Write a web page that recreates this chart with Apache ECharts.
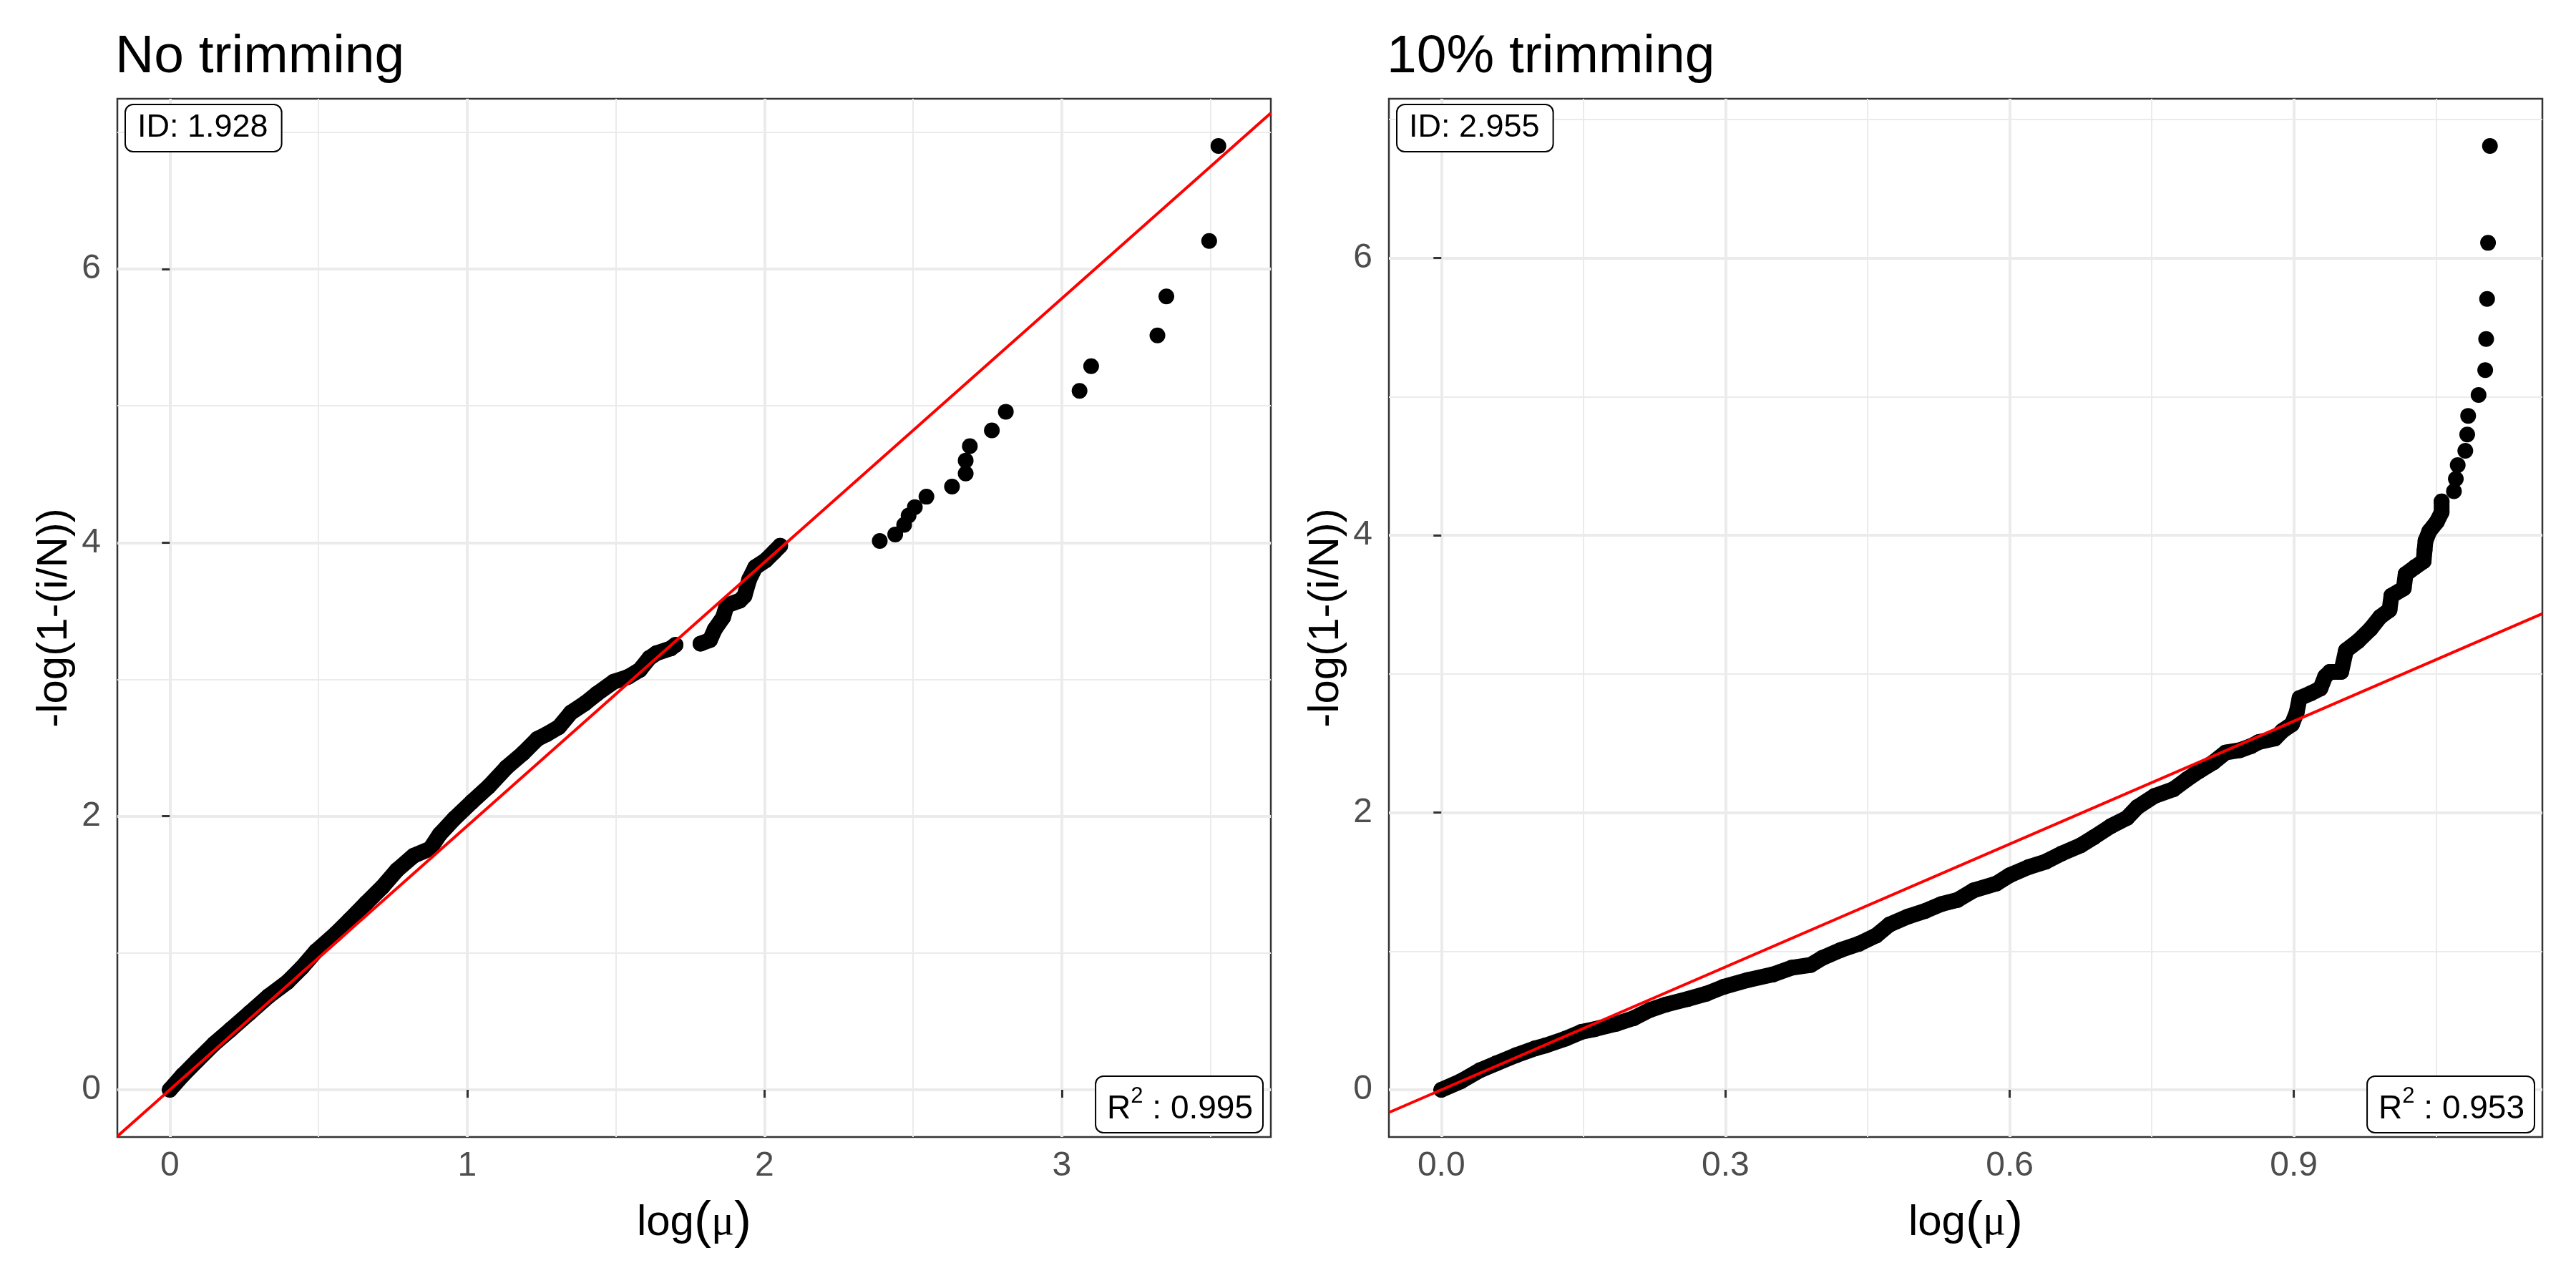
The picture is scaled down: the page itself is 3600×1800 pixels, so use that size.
<!DOCTYPE html>
<html>
<head>
<meta charset="utf-8">
<script src="https://cdn.jsdelivr.net/npm/echarts@6/dist/echarts.min.js"></script>
<style>html,body{margin:0;padding:0;background:#fff}#c{width:3600px;height:1800px}</style>
</head>
<body>
<div id="c"></div>
<script>
// ---------- data ----------
const panelTitles = ['No trimming', '10% trimming'];
const idValues = [1.928, 2.955];
const r2Values = [0.995, 0.953];

// No trimming: dense run of points (part 1 and part 2) and the sparse upper tail
const noTrimBand1 = [[0.000,0.000],[0.044,0.108],[0.092,0.213],[0.148,0.334],[0.204,0.439],[0.268,0.561],
  [0.332,0.684],[0.396,0.789],[0.444,0.893],[0.492,1.014],[0.556,1.136],[0.604,1.240],[0.660,1.364],
  [0.716,1.485],[0.764,1.606],[0.820,1.711],[0.876,1.763],[0.908,1.868],[0.956,1.980],[1.016,2.105],
  [1.072,2.216],[1.132,2.356],[1.188,2.460],[1.236,2.565],[1.268,2.600],[1.309,2.652],[1.349,2.757],
  [1.397,2.826],[1.437,2.896],[1.493,2.983],[1.541,3.018],[1.581,3.070],[1.613,3.157],[1.637,3.192],
  [1.685,3.227],[1.701,3.253]];
const noTrimBand2 = [[1.785,3.262],[1.817,3.288],[1.833,3.366],[1.861,3.454],[1.873,3.541],[1.917,3.576],
  [1.933,3.611],[1.949,3.732],[1.969,3.820],[2.005,3.872],[2.033,3.933],[2.053,3.977]];
const noTrimTail = [[2.388,4.012],[2.440,4.060],[2.470,4.130],[2.485,4.198],[2.506,4.260],[2.545,4.336],
  [2.631,4.410],[2.677,4.505],[2.677,4.600],[2.691,4.705],[2.765,4.820],[2.812,4.957],[3.060,5.110],
  [3.099,5.290],[3.322,5.515],[3.352,5.800],[3.496,6.205],[3.527,6.900]];

// 10% trimming
const trimBand = [[0.000,0.000],[0.021,0.063],[0.041,0.142],[0.058,0.191],[0.079,0.250],[0.099,0.299],
  [0.110,0.320],[0.131,0.369],[0.148,0.418],[0.162,0.438],[0.185,0.477],[0.203,0.517],[0.220,0.576],
  [0.237,0.615],[0.260,0.655],[0.280,0.694],[0.298,0.743],[0.324,0.793],[0.350,0.832],[0.370,0.881],
  [0.390,0.901],[0.402,0.951],[0.422,1.010],[0.441,1.054],[0.459,1.113],[0.473,1.192],[0.493,1.251],
  [0.511,1.291],[0.528,1.340],[0.545,1.370],[0.562,1.439],[0.586,1.488],[0.600,1.548],[0.620,1.607],
  [0.638,1.646],[0.655,1.705],[0.675,1.764],[0.689,1.823],[0.707,1.903],[0.724,1.962],[0.735,2.041],
  [0.753,2.120],[0.773,2.169],[0.787,2.240],[0.800,2.300],[0.815,2.362],[0.828,2.433],[0.843,2.450],
  [0.855,2.480],[0.863,2.509],[0.880,2.535],[0.888,2.590],[0.898,2.637],[0.903,2.723],[0.906,2.826],
  [0.918,2.861],[0.928,2.895],[0.933,2.981],[0.938,3.015],[0.950,3.015],[0.955,3.170],[0.968,3.238],
  [0.981,3.325],[0.991,3.411],[1.001,3.462],[1.003,3.565],[1.016,3.617],[1.018,3.720],[1.028,3.771],
  [1.037,3.814],[1.038,3.892],[1.039,3.960],[1.043,4.029],[1.051,4.098],[1.056,4.167],[1.056,4.244]];
const trimTail = [[1.069,4.318],[1.071,4.407],[1.073,4.507],[1.081,4.610],[1.083,4.727],[1.084,4.862],
  [1.095,5.012],[1.102,5.192],[1.103,5.416],[1.104,5.705],[1.105,6.110],[1.107,6.809]];

// tick values
const xTicksNoTrim = [0, 1, 2, 3];
const xMinorNoTrim = [0.5, 1.5, 2.5, 3.5];
const xTicksTrim = [0, 0.3, 0.6, 0.9];
const xMinorTrim = [0.15, 0.45, 0.75, 1.05];
const yTicks = [0, 2, 4, 6];
const yMinor = [1, 3, 5, 7];

// ---------- build chart ----------
const FONT = '"Liberation Sans", Arial, sans-serif';
const panels = [
  { bands: [noTrimBand1, noTrimBand2], tail: noTrimTail, xTicks: xTicksNoTrim, xMinor: xMinorNoTrim, fmt: v => String(v) },
  { bands: [trimBand], tail: trimTail, xTicks: xTicksTrim, xMinor: xMinorTrim, fmt: v => v.toFixed(1) }
];
const gridPos = [{ left: 164, top: 138, width: 1612, height: 1451 }, { left: 1941, top: 138, width: 1612, height: 1451 }];

function expand(vals) {
  const mn = Math.min(...vals), mx = Math.max(...vals), r = mx - mn;
  return [mn - 0.05 * r, mx + 0.05 * r];
}

const grids = [], xAxes = [], yAxes = [], series = [], titles = [], graphics = [];

panels.forEach((p, i) => {
  const all = p.bands.flat().concat(p.tail);
  const xr = expand(all.map(d => d[0]));
  const yr = expand(all.map(d => d[1]));
  const g = gridPos[i];
  grids.push({ left: g.left, top: g.top, width: g.width, height: g.height, show: true,
    borderColor: '#333333', borderWidth: 2.5, backgroundColor: 'transparent', containLabel: false });

  const xi = xAxes.length, yi = yAxes.length;
  // major x
  xAxes.push({ type: 'value', gridIndex: i, min: xr[0], max: xr[1], position: 'bottom',
    axisLine: { show: false },
    axisTick: { show: true, length: 11, customValues: p.xTicks, lineStyle: { color: '#333333', width: 3 } },
    axisLabel: { show: true, customValues: p.xTicks, formatter: p.fmt, fontSize: 48, color: '#4D4D4D', fontFamily: FONT, margin: 17 },
    splitLine: { show: true, lineStyle: { color: '#EBEBEB', width: 4 } },
    name: '{a|log}{p|(}{m|μ}{p|)}', nameLocation: 'middle', nameGap: 84,
    nameTextStyle: { color: '#000', fontFamily: FONT, fontSize: 60,
      rich: { a: { fontSize: 60, fontFamily: FONT, color: '#000' },
              p: { fontSize: 72, fontFamily: FONT, color: '#000' },
              m: { fontSize: 60, fontFamily: '"Liberation Serif", serif', color: '#000' } } }
  });
  // minor x
  xAxes.push({ type: 'value', gridIndex: i, min: xr[0], max: xr[1], position: 'bottom',
    axisLine: { show: false }, axisTick: { show: false, customValues: p.xMinor }, axisLabel: { show: false },
    splitLine: { show: true, lineStyle: { color: '#EBEBEB', width: 2 } } });
  // major y
  yAxes.push({ type: 'value', gridIndex: i, min: yr[0], max: yr[1], position: 'left',
    axisLine: { show: false },
    axisTick: { show: true, length: 11, customValues: yTicks, lineStyle: { color: '#333333', width: 3 } },
    axisLabel: { show: true, customValues: yTicks, fontSize: 48, color: '#4D4D4D', fontFamily: FONT, margin: 23 },
    splitLine: { show: true, lineStyle: { color: '#EBEBEB', width: 4 } },
    name: '-log(1-(i/N))', nameLocation: 'middle', nameGap: 58,
    nameTextStyle: { color: '#000', fontFamily: FONT, fontSize: 60 } });
  // minor y
  yAxes.push({ type: 'value', gridIndex: i, min: yr[0], max: yr[1], position: 'left',
    axisLine: { show: false }, axisTick: { show: false, customValues: yMinor }, axisLabel: { show: false },
    splitLine: { show: true, lineStyle: { color: '#EBEBEB', width: 2 } } });

  p.bands.forEach(b => {
    series.push({ type: 'line', xAxisIndex: xi, yAxisIndex: yi, data: b, showSymbol: false, symbol: 'none',
      smooth: false, silent: true, z: 3,
      lineStyle: { color: '#000', width: 22, cap: 'round', join: 'round' } });
  });
  series.push({ type: 'scatter', xAxisIndex: xi, yAxisIndex: yi, data: all, symbol: 'circle', symbolSize: 22,
    silent: true, z: 4, itemStyle: { color: '#000', opacity: 1 } });
  const id = idValues[i];
  series.push({ type: 'line', xAxisIndex: xi, yAxisIndex: yi, data: [[xr[0], id * xr[0]], [xr[1], id * xr[1]]],
    showSymbol: false, symbol: 'none', silent: true, z: 5, clip: true,
    lineStyle: { color: '#FF0000', width: 4 } });

  titles.push({ text: panelTitles[i], left: g.left - 8, top: 38,
    textStyle: { fontSize: 75, fontWeight: 'normal', color: '#000', fontFamily: FONT, lineHeight: 75 } });

  graphics.push({ type: 'text', left: g.left + 10, top: 145, z: 100,
    style: { text: 'ID: ' + id.toFixed(3), font: '45px ' + FONT, fill: '#000', lineHeight: 46,
      backgroundColor: '#fff', borderColor: '#000', borderWidth: 2, borderRadius: 10, padding: [9, 18, 9, 16] } });
  graphics.push({ type: 'text', right: 3600 - (g.left + g.width - 10), bottom: 1800 - (g.top + g.height - 5), z: 100,
    style: { text: '{r|R}{s|2}{r| : ' + r2Values[i].toFixed(3) + '}', fill: '#000',
      backgroundColor: '#fff', borderColor: '#000', borderWidth: 2, borderRadius: 10, padding: [12, 13, 9, 15],
      rich: { r: { fontSize: 46, fontFamily: FONT, lineHeight: 56, verticalAlign: 'bottom', fill: '#000' },
              s: { fontSize: 31, fontFamily: FONT, lineHeight: 34, verticalAlign: 'top', fill: '#000' } } } });
});

const chart = echarts.init(document.getElementById('c'), null, { renderer: 'canvas' });
chart.setOption({
  animation: false,
  backgroundColor: '#fff',
  title: titles,
  grid: grids,
  xAxis: xAxes,
  yAxis: yAxes,
  series: series,
  graphic: graphics
});
</script>
</body>
</html>
